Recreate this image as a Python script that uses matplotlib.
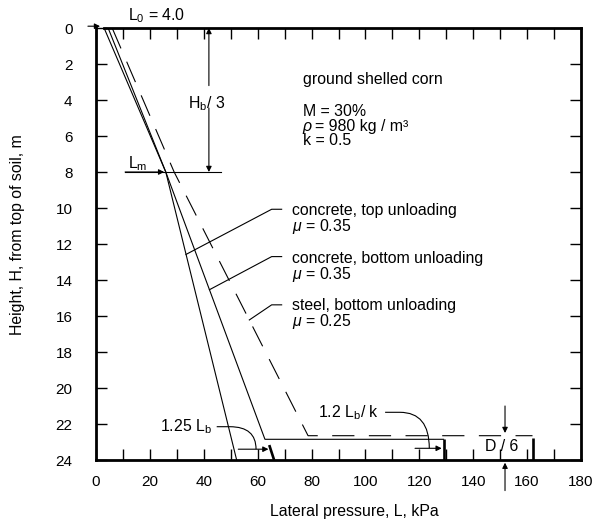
import matplotlib
matplotlib.use("Agg")
import matplotlib.pyplot as plt
from matplotlib.path import Path
from matplotlib.patches import PathPatch

plt.rcParams.update({
    "font.family": "Liberation Sans",
    "font.size": 11,
    "mathtext.fontset": "custom",
    "mathtext.rm": "Liberation Sans",
    "mathtext.it": "Liberation Sans:italic",
})

# ── data (L in kPa, H in m) ───────────────────────────────────────────────────
x_ticks = [0, 20, 40, 60, 80, 100, 120, 140, 160, 180]
x_minor = [10, 30, 50, 70, 90, 110, 130, 150, 170]
y_ticks = [0, 2, 4, 6, 8, 10, 12, 14, 16, 18, 20, 22, 24]

# concrete, top unloading
top_unl_L = [3.0, 25.9, 52.2]
top_unl_H = [0.0, 8.0, 24.0]
# concrete, bottom unloading
bot_unl_L = [4.5, 25.9, 62.7, 129.0]
bot_unl_H = [0.0, 8.0, 22.85, 22.85]
# steel, bottom unloading
steel_L = [6.0, 29.0, 78.7, 162.0]
steel_H = [0.0, 8.0, 22.65, 22.65]

# thick end marks at the bottom
mark_125_L = [64.3, 66.1]
mark_125_H = [23.17, 24.0]
mark_bot_L = [129.0, 129.0]
mark_bot_H = [22.85, 24.0]
mark_steel_L = [162.2, 162.2]
mark_steel_H = [22.8, 24.0]

fig = plt.figure(figsize=(5.93, 5.25), dpi=100)
ax = fig.add_axes([96 / 593, 65 / 525, 485 / 593, 432 / 525])

ax.plot(top_unl_L, top_unl_H, color="black", lw=0.8)
ax.plot(bot_unl_L, bot_unl_H, color="black", lw=0.8)
ax.plot(steel_L, steel_H, color="black", lw=0.8, linestyle=(0, (20, 13)))
for mx, my in [(mark_125_L, mark_125_H), (mark_bot_L, mark_bot_H),
               (mark_steel_L, mark_steel_H)]:
    ax.plot(mx, my, color="black", lw=1.9, solid_capstyle="butt")

ax.set_xlim(0, 180)
ax.set_ylim(24, 0)

# ── spines & ticks ────────────────────────────────────────────────────────────
for s in ax.spines.values():
    s.set_linewidth(2.0)
ax.spines["top"].set_bounds(3, 180)

ax.set_xticks(x_ticks)
ax.set_xticks(x_minor, minor=True)
ax.set_yticks(y_ticks)
ax.tick_params(which="both", direction="in", top=True, right=True,
               length=8, width=1.0)
ax.tick_params(axis="x", pad=11, labelsize=11)
ax.tick_params(axis="y", pad=17, labelsize=11)

ax.set_xlabel("Lateral pressure, L, kPa", fontsize=11.4)
ax.xaxis.set_label_coords(0.533, -0.12)
ax.xaxis.label.set_verticalalignment("center")
ax.set_ylabel("Height, H, from top of soil, m", fontsize=11.4)
ax.yaxis.set_label_coords(-0.161, 0.521)
ax.yaxis.label.set_verticalalignment("center")

arrow_kw = dict(arrowstyle="-|>", color="black", lw=0.8,
                mutation_scale=8, shrinkA=0, shrinkB=0)
fs = 11.4

# ── top: L0 ───────────────────────────────────────────────────────────────────
ax.text(12, -0.45, "L$_0$ = 4.0", fontsize=fs, ha="left", va="baseline",
        clip_on=False)
ax.annotate("", xy=(1.5, -0.1), xytext=(-3, -0.1), arrowprops=arrow_kw,
            annotation_clip=False)

# ── Hb/3 and Lm ───────────────────────────────────────────────────────────────
ax.annotate("", xy=(41.9, 0.0), xytext=(41.9, 3.2), arrowprops=arrow_kw)
ax.annotate("", xy=(41.9, 8.0), xytext=(41.9, 4.45), arrowprops=arrow_kw)
ax.text(41.0, 4.2, "H$_\\mathrm{b}$/ 3", fontsize=fs, ha="center", va="center")
ax.plot([10.8, 46.4], [8.0, 8.0], color="black", lw=0.8)
ax.annotate("", xy=(25.3, 8.0), xytext=(10.8, 8.0), arrowprops=arrow_kw)
ax.text(12.0, 7.8, "L$_\\mathrm{m}$", fontsize=fs, ha="left", va="baseline")

# ── material block ────────────────────────────────────────────────────────────
ax.text(76.7, 3.1, "ground shelled corn", fontsize=fs, va="baseline")
ax.text(76.7, 4.9, "M = 30%", fontsize=fs, va="baseline")
ax.text(76.7, 5.72, "ρ", fontsize=fs, style="italic", va="baseline")
ax.text(81.2, 5.72, "= 980 kg / m³", fontsize=fs, va="baseline")
ax.text(76.7, 6.5, "k = 0.5", fontsize=fs, va="baseline")

# ── curve labels with leaders ─────────────────────────────────────────────────
labels = [
    ("concrete, top unloading", "0.35", 10.15, 11.0, 10.07, (33.4, 12.58)),
    ("concrete, bottom unloading", "0.35", 12.8, 13.67, 12.7, (42.1, 14.54)),
    ("steel, bottom unloading", "0.25", 15.44, 16.3, 15.38, (56.9, 16.22)),
]
for name, mu, h1, h2, hl, end in labels:
    ax.text(72.7, h1, name, fontsize=fs, va="center")
    ax.text(72.7, h2, "$\\mu$ = " + mu, fontsize=fs, va="center")
    ax.plot([68.9, 65.2, end[0]], [hl, hl, end[1]], color="black", lw=0.8)

# ── bottom annotations ────────────────────────────────────────────────────────
def curved_leader(x0, x1, xc, y0, yc):
    verts = [(x0, y0), (x1, y0), (xc, y0), (xc, yc)]
    codes = [Path.MOVETO, Path.LINETO, Path.CURVE3, Path.CURVE3]
    ax.add_patch(PathPatch(Path(verts, codes), fill=False, color="black",
                           lw=0.8))

ax.text(43.0, 22.15, "1.25 L$_\\mathrm{b}$", fontsize=fs, ha="right",
        va="center")
curved_leader(44.8, 49.7, 59.4, 22.15, 23.4)
ax.annotate("", xy=(64.0, 23.4), xytext=(52.8, 23.4), arrowprops=arrow_kw)

ax.text(105.1, 21.35, "1.2 L$_\\mathrm{b}$/ k", fontsize=fs, ha="right",
        va="center")
curved_leader(107.3, 112.8, 123.7, 21.35, 23.35)
ax.annotate("", xy=(128.3, 23.35), xytext=(118.4, 23.35), arrowprops=arrow_kw)

ax.annotate("", xy=(151.8, 22.5), xytext=(151.8, 21.0), arrowprops=arrow_kw)
ax.annotate("", xy=(151.8, 24.15), xytext=(151.8, 25.7), arrowprops=arrow_kw,
            annotation_clip=False)
ax.text(150.6, 23.25, "D / 6", fontsize=fs, ha="center", va="center")

fig.savefig("out.png", dpi=100)
